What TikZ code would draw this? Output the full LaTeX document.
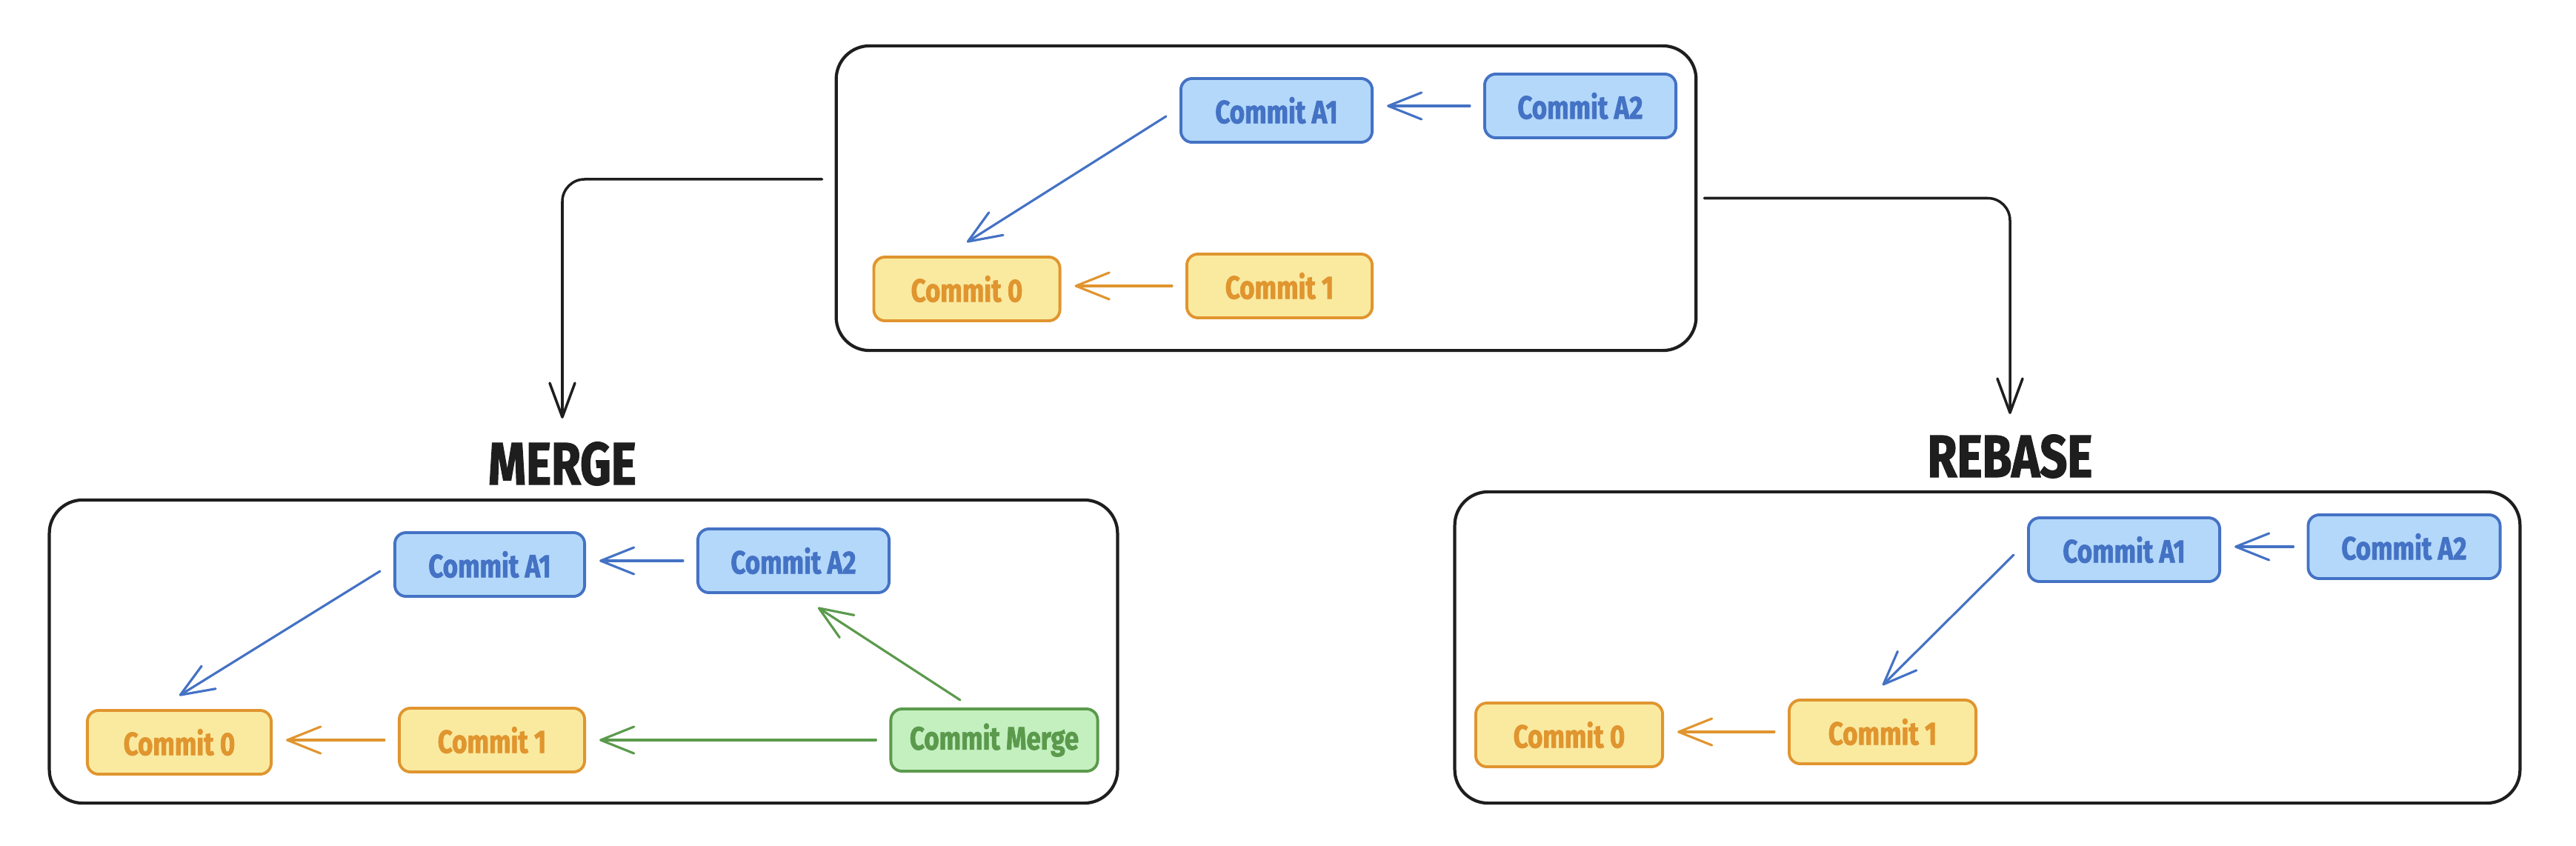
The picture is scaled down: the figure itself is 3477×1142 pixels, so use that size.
\documentclass[tikz,border=0pt]{standalone}
\usepackage{fontspec}
\usetikzlibrary{arrows.meta}
\newfontfamily\hand{Fira Sans}[FakeStretch=0.80, FakeBold=1.6]
\definecolor{bfill}{HTML}{B4D8FA}
\definecolor{bline}{HTML}{4472C4}
\definecolor{yfill}{HTML}{FAEAA0}
\definecolor{yline}{HTML}{E0952F}
\definecolor{gfill}{HTML}{C4F0C0}
\definecolor{gline}{HTML}{5B9A4C}
\definecolor{ink}{HTML}{1E1E1E}
\tikzset{
  commit/.style={draw, rounded corners=0.15cm, line width=1.1pt, minimum height=0.86cm,
    inner sep=0pt, outer sep=0.2cm, font=\hand\bfseries\fontsize{12.4}{14}\selectfont},
  bluec/.style={commit, fill=bfill, draw=bline, text=bline},
  yelc/.style={commit, fill=yfill, draw=yline, text=yline},
  grnc/.style={commit, fill=gfill, draw=gline, text=gline},
  bigbox/.style={draw=ink, line width=1.2pt, rounded corners=0.45cm, inner sep=0pt},
  title/.style={inner sep=0pt, text=ink, font=\hand\bfseries\fontsize{23}{26}\selectfont},
  arr/.style={line width=0.9pt, line cap=round, -{Straight Barb[length=0.45cm,width=0.36cm,round]}},
  conn/.style={draw=ink, line width=1pt, line cap=round, rounded corners=0.3cm,
    -{Straight Barb[length=0.46cm,width=0.34cm,round]}}
}
\begin{document}
\begin{tikzpicture}[x=0.01cm, y=-0.01cm]
\useasboundingbox (0,0) rectangle (3477,1142);
% containers
\node[bigbox, minimum width=11.60cm, minimum height=4.11cm] (top) at (1709,267.5) {};
\node[bigbox, minimum width=14.41cm, minimum height=4.09cm] (mbox) at (787.5,879.5) {};
\node[bigbox, minimum width=14.37cm, minimum height=4.20cm] (rbox) at (2682.5,874) {};
% titles
\node[title] (mtitle) at (759,626) {MERGE};
\node[title] (rtitle) at (2713,616) {REBASE};
% top commits
\node[bluec, minimum width=2.58cm] (tA1) at (1723,149) {Commit A1};
\node[bluec, minimum width=2.58cm] (tA2) at (2133,143) {Commit A2};
\node[yelc, minimum width=2.51cm] (t0) at (1305,390) {Commit 0};
\node[yelc, minimum width=2.50cm] (t1) at (1727,386) {Commit 1};
% merge commits
\node[bluec, minimum width=2.56cm] (mA1) at (661,762) {Commit A1};
\node[bluec, minimum width=2.58cm] (mA2) at (1071,757) {Commit A2};
\node[yelc, minimum width=2.48cm] (m0) at (242,1002) {Commit 0};
\node[yelc, minimum width=2.50cm] (m1) at (664,999) {Commit 1};
\node[grnc, minimum width=2.79cm, minimum height=0.84cm] (mM) at (1342,999) {Commit Merge};
% rebase commits
\node[bluec, minimum width=2.58cm] (rA1) at (2867,742) {Commit A1};
\node[bluec, minimum width=2.59cm] (rA2) at (3245,738) {Commit A2};
\node[yelc, minimum width=2.52cm] (r0) at (2118,992) {Commit 0};
\node[yelc, minimum width=2.52cm] (r1) at (2541,988) {Commit 1};
% top arrows
\draw[arr, bline] (tA2.west) -- (tA2.west -| tA1.east);
\draw[arr, bline] ([yshift=-0.08cm]tA1.west) -- (t0.north);
\draw[arr, yline] (t1.west) -- (t1.west -| t0.east);
% merge arrows
\draw[arr, bline] (mA2.west) -- (mA2.west -| mA1.east);
\draw[arr, bline] ([yshift=-0.09cm]mA1.west) -- (m0.north);
\draw[arr, yline] (m1.west) -- (m1.west -| m0.east);
\draw[arr, gline] (mM.west) -- (mM.west -| m1.east);
\draw[arr, gline] ([xshift=-0.46cm,yshift=-0.08cm]mM.north) -- ([xshift=0.33cm]mA2.south);
% rebase arrows
\draw[arr, bline] (rA2.west) -- (rA2.west -| rA1.east);
\draw[arr, bline] ([yshift=-0.07cm]rA1.west) -- (r1.north);
\draw[arr, yline] (r1.west) -- (r1.west -| r0.east);
% connectors
\draw[conn] ([xshift=-0.17cm,yshift=0.255cm]top.west) -| ([yshift=0.31cm]mtitle.north);
\draw[conn] ([xshift=0.09cm]top.east) -| ([yshift=0.27cm]rtitle.north);
\end{tikzpicture}
\end{document}
